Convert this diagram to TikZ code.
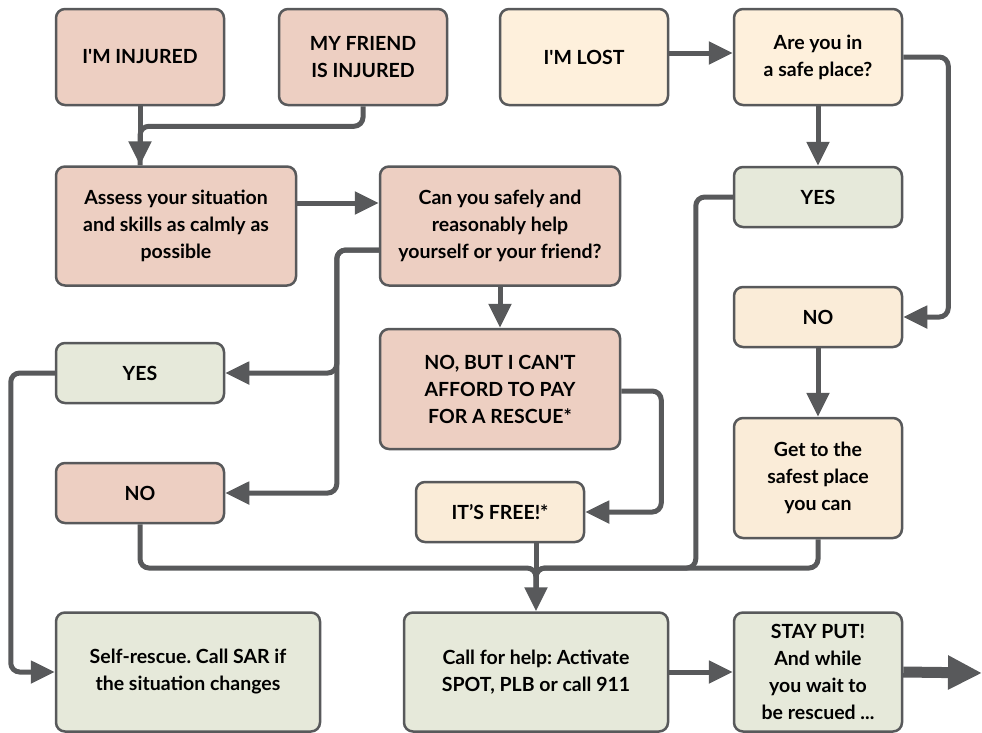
\documentclass[tikz,border=0pt]{standalone}
\usepackage{fontspec}
\setmainfont{Lato}
\usetikzlibrary{arrows.meta}

\definecolor{linegray}{HTML}{58595B}
\definecolor{pinkfill}{HTML}{EDCFC2}
\definecolor{lostfill}{HTML}{FEF0DC}
\definecolor{creamfill}{HTML}{FAECD8}
\definecolor{greenfill}{HTML}{E6E9DA}

\begin{document}
\frenchspacing
\begin{tikzpicture}[
    x=1pt, y=-1pt,
    box/.style={draw=linegray, line width=2.5pt, rounded corners=9pt, align=center,
        inner sep=0pt, minimum width=168pt, font=\bfseries\fontsize{19.5}{27}\selectfont},
    pinkbox/.style={box, fill=pinkfill},
    lostbox/.style={box, fill=lostfill},
    creambox/.style={box, fill=creamfill},
    greenbox/.style={box, fill=greenfill},
    conn/.style={draw=linegray, line width=5pt, rounded corners=9pt,
        -{Triangle[length=24pt, width=22pt]}},
    link/.style={draw=linegray, line width=5pt, rounded corners=9pt},
]
\useasboundingbox (0,0) rectangle (982,732);

% Injured column
\node[pinkbox, minimum height=96pt] (injured) at (140,57) {I\textquotesingle M INJURED};
\node[pinkbox, minimum height=96pt] (friend) at (363,57) {MY FRIEND\\IS INJURED};
\node[pinkbox, minimum width=240pt, minimum height=119pt] (assess) at (176,226)
    {Assess your situation\\and skills as calmly as\\possible};
\node[pinkbox, minimum width=240pt, minimum height=119pt] (canyou) at (500,226)
    {Can you safely and\\reasonably help\\yourself or your friend?};
\node[greenbox, minimum height=60pt] (yesA) at (140,373) {YES};
\node[pinkbox, minimum height=60pt] (noA) at (140,493) {NO};
\node[pinkbox, minimum width=240pt, minimum height=120pt] (nobut) at (500,389)
    {NO, BUT I CAN\textquotesingle T\\AFFORD TO PAY\\FOR A RESCUE*};
\node[creambox, minimum height=60pt] (free) at (500,512) {IT’S FREE!*};

% Lost column
\node[lostbox, minimum height=96pt] (lost) at (584,57) {I\textquotesingle M LOST};
\node[lostbox, minimum height=96pt] (safe) at (818,57) {Are you in\\a safe place?};
\node[greenbox, minimum height=60pt] (yesB) at (818,197) {YES};
\node[creambox, minimum height=60pt] (noB) at (818,317) {NO};
\node[creambox, minimum height=120pt] (getto) at (818,478)
    {Get to the\\safest place\\you can};

% Outcomes
\node[greenbox, minimum width=264pt, minimum height=119pt] (selfresc) at (188,672)
    {Self-rescue. Call SAR if\\the situation changes};
\node[greenbox, minimum width=264pt, minimum height=119pt] (callhelp) at (536,672)
    {Call for help: Activate\\SPOT, PLB or call 911};
\node[greenbox, minimum height=119pt] (stay) at (818,672)
    {STAY PUT!\\And while\\you wait to\\be rescued ...};
\coordinate (merge) at (536,568);
\coordinate (onward) at (982,673);

% Connectors
\draw[conn] (injured.south) -- (injured.south |- assess.north);
\draw[link] (friend.south) -- ++(0,20) -| (injured.south |- assess.north);
\draw[conn] ([yshift=23pt]assess.east) -- ([yshift=23pt]canyou.west);
\draw[conn] ([yshift=-24pt]canyou.west) -- ++(-42,0) |- (yesA.east);
\draw[conn] ([yshift=-24pt]canyou.west) -- ++(-42,0) |- (noA.east);
\draw[conn] (canyou.south) -- (nobut.north);
\draw[conn] ([yshift=-2pt]nobut.east) -- ++(40,0) |- (free.east);
\draw[conn] (yesA.west) -- ++(-44,0) |- (selfresc.west);
\draw[link] (noA.south) |- (merge) -- ++(0,20);
\draw[link] (getto.south) |- (merge) -- ++(0,20);
\draw[link] (yesB.west) -- ++(-37,0) |- (merge) -- ++(0,20);
\draw[conn] (free.south -| callhelp.north) -- (callhelp.north);
\draw[conn] ([yshift=4pt]lost.east) -- ([yshift=4pt]safe.west);
\draw[conn] (safe.south) -- (yesB.north);
\draw[conn] (safe.east) -- ++(45,0) |- (noB.east);
\draw[conn] (noB.south) -- (getto.north);
\draw[conn] (callhelp.east) -- (stay.west);
\draw[draw=linegray, line width=11pt, -{Triangle[length=34pt, width=32pt]}]
    (stay.east) -- (onward);

\end{tikzpicture}
\end{document}
